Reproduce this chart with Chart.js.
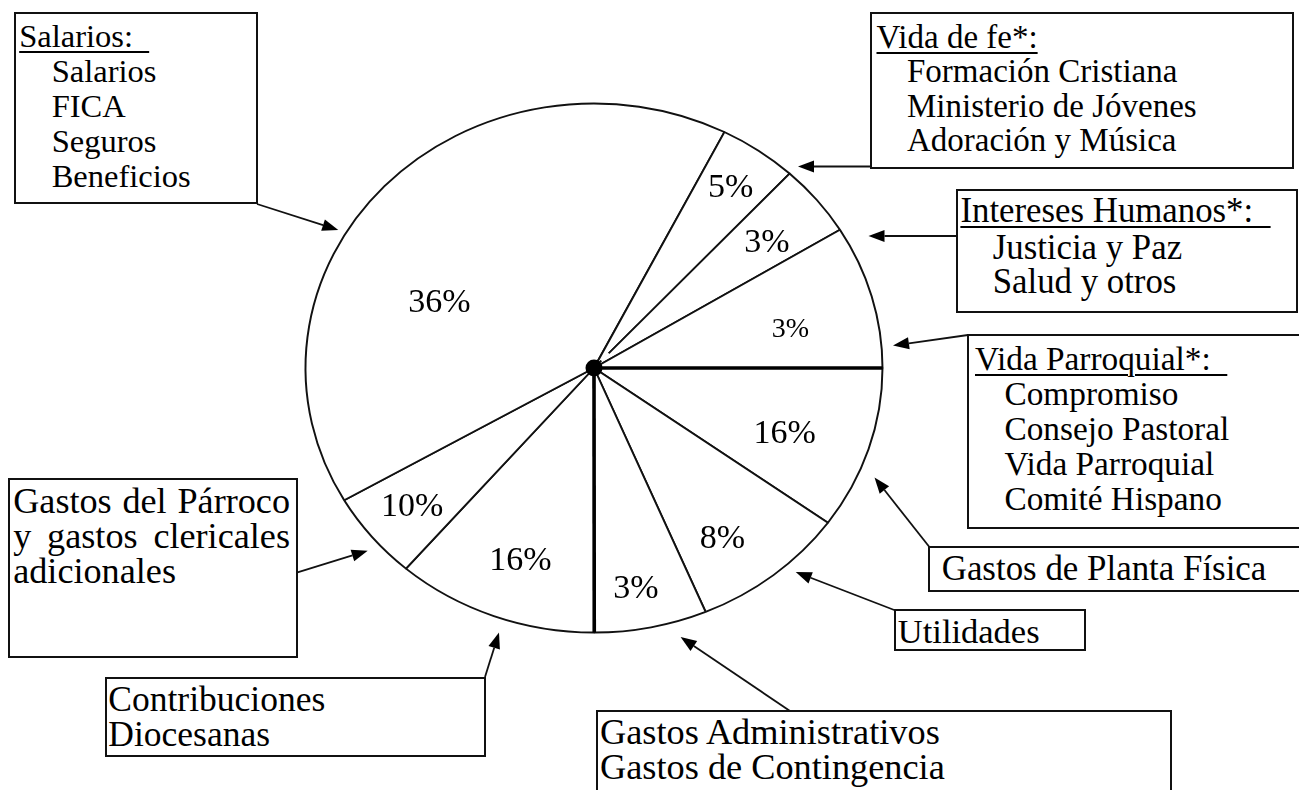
<!DOCTYPE html>
<html>
<head>
<meta charset="utf-8">
<script src="https://cdn.jsdelivr.net/npm/chart.js@4.4.1/dist/chart.umd.min.js"></script>
<style>
  body { margin: 0; background: #fff; }
  #page { position: relative; width: 1299px; height: 790px; overflow: hidden; font-family: "Liberation Serif", "Times New Roman", serif; color: #000; }
  #pie { position: absolute; left: 274px; top: 88px; }
  .box { position: absolute; box-sizing: border-box; border: 2px solid #111; background: #fff; white-space: pre; }
  .box .u { text-decoration: underline; text-decoration-thickness: 2px; text-underline-offset: 4px; }
  .box.para { white-space: normal; text-align: justify; }
  #arrows { position: absolute; left: 0; top: 0; pointer-events: none; }
</style>
</head>
<body>
<div id="page">
  <canvas id="pie" width="640" height="560"></canvas>
  <svg id="arrows" width="1299" height="790"></svg>
</div>
<script>
'use strict';

// slices, clockwise from 3 o'clock
let sliceNames = ['Gastos de Planta Física', 'Utilidades', 'Gastos Administrativos', 'Contribuciones Diocesanas',
  'Gastos del Párroco', 'Salarios', 'Vida de fe', 'Intereses Humanos', 'Vida Parroquial'];
let pctLabels = ['16%', '8%', '3%', '16%', '10%', '36%', '5%', '3%', '3%'];
// size of each slice as it is drawn (degrees) - the drawing doesn't follow the printed %
let sliceDegrees = [35.8, 31.4, 22.7, 40.7, 19.3, 146.8, 15.8, 15.8, 31.5];

let salariosItems = ['Salarios', 'FICA', 'Seguros', 'Beneficios'];
let feItems = ['Formación Cristiana', 'Ministerio de Jóvenes', 'Adoración y Música'];
let humanosItems = ['Justicia y Paz', 'Salud y otros'];
let parroquialItems = ['Compromiso', 'Consejo Pastoral', 'Vida Parroquial', 'Comité Hispano'];


// the pie is a bit wider than tall in the picture
let stretchX = 288.5 / 264.5;
// where each % sits: [part of the slice angle, part of the radius]
let labelSpots = [[0.577, 0.706], [0.626, 0.785], [0.568, 0.850], [0.475, 0.773], [0.494, 0.820],
  [0.372, 0.589], [0.5, 0.830], [0.576, 0.763], [0.615, 0.696]];

let piePlugin = {
  id: 'piePlugin',
  beforeDatasetsDraw(chart) {
    let arc = chart.getDatasetMeta(0).data[0];
    let ctx = chart.ctx;
    ctx.save();
    ctx.translate(arc.x, arc.y);
    ctx.scale(stretchX, 1);
    ctx.translate(-arc.x, -arc.y);
  },
  afterDatasetsDraw(chart) {
    let ctx = chart.ctx;
    let arcs = chart.getDatasetMeta(0).data;
    let cx = arcs[0].x;
    let cy = arcs[0].y;
    let R = arcs[0].outerRadius;

    // heavier spokes at 3 and 6 o'clock
    ctx.strokeStyle = '#000';
    ctx.lineWidth = 3.3;
    [0, 3].forEach(i => {
      let a = arcs[i].startAngle;
      ctx.beginPath();
      ctx.moveTo(cx, cy);
      ctx.lineTo(cx + R * Math.cos(a), cy + R * Math.sin(a));
      ctx.stroke();
    });

    // the 5% / 3% spoke stops short of the hub
    let g = arcs[7].startAngle;
    ctx.strokeStyle = '#fff';
    ctx.lineWidth = 2.6;
    ctx.beginPath();
    ctx.moveTo(cx + 10 * Math.cos(g), cy + 10 * Math.sin(g));
    ctx.lineTo(cx + 20 * Math.cos(g), cy + 20 * Math.sin(g));
    ctx.stroke();
    ctx.restore();

    ctx.fillStyle = '#000';
    ctx.beginPath();
    ctx.arc(cx, cy, 8.5, 0, Math.PI * 2);
    ctx.fill();

    ctx.textAlign = 'center';
    ctx.textBaseline = 'middle';
    arcs.forEach((a, i) => {
      let f = labelSpots[i][0];
      let r = labelSpots[i][1];
      let ang = a.startAngle + f * (a.endAngle - a.startAngle);
      ctx.font = (i === 8 ? 28 : 34) + 'px "Liberation Serif"';
      ctx.fillText(pctLabels[i], cx + r * R * Math.cos(ang) * stretchX, cy + r * R * Math.sin(ang));
    });
  }
};

new Chart(document.getElementById('pie'), {
  type: 'pie',
  data: {
    labels: sliceNames,
    datasets: [{
      data: sliceDegrees,
      backgroundColor: '#fff',
      borderColor: '#111',
      borderWidth: 1.8
    }]
  },
  options: {
    responsive: false,
    animation: false,
    events: [],
    rotation: 90,
    radius: 264.5,
    layout: { padding: 0 },
    plugins: { legend: { display: false }, tooltip: { enabled: false } }
  },
  plugins: [piePlugin]
});


// note boxes
let boxes = [
  { x: 14, y: 12, w: 244, h: 192, size: 32.5, lh: 35, pad: [5, 3.2], title: 'Salarios:  ', items: salariosItems, indent: 32.5 },
  { x: 870, y: 12, w: 424, h: 157, size: 33, lh: 34.5, pad: [5.9, 4.5], title: 'Vida de fe*:', items: feItems, indent: 30.5 },
  { x: 956, y: 189, w: 342, h: 124, size: 34.8, lh: 34, pad: [3, 2.4], title: 'Intereses Humanos*:  ', items: humanosItems, indent: 32.3, gap: 2.5 },
  { x: 967, y: 334, w: 360, h: 195, size: 33.3, lh: 35, pad: [5.3, 6], title: 'Vida Parroquial*:  ', items: parroquialItems, indent: 29.5 },
  { x: 928, y: 546, w: 400, h: 46, size: 34.9, lh: 35, pad: [2.7, 11.7], lines: ['Gastos de Planta Física'] },
  { x: 894, y: 609, w: 192, h: 42, size: 34.5, lh: 35, pad: [3.2, 1.8], lines: ['Utilidades'] },
  { x: 596, y: 710, w: 576, h: 120, size: 36.3, lh: 35, pad: [3.2, 2], lines: ['Gastos Administrativos', 'Gastos de Contingencia'] },
  { x: 105, y: 677, w: 381, h: 80, size: 35.5, lh: 35, pad: [2.5, 1.3], lines: ['Contribuciones', 'Diocesanas'] },
  { x: 8, y: 478, w: 290, h: 180, size: 36.2, lh: 35, pad: [3.6, 3.2], padRight: 6, para: 'Gastos del Párroco y gastos clericales adicionales' }
];

let page = document.getElementById('page');
boxes.forEach(b => {
  let div = document.createElement('div');
  div.className = 'box' + (b.para ? ' para' : '');
  div.style.left = b.x + 'px';
  div.style.top = b.y + 'px';
  div.style.width = b.w + 'px';
  div.style.height = b.h + 'px';
  div.style.fontSize = b.size + 'px';
  div.style.lineHeight = b.lh + 'px';
  div.style.padding = b.pad[0] + 'px ' + (b.padRight || 0) + 'px 0 ' + b.pad[1] + 'px';

  if (b.para) {
    div.textContent = b.para;
  } else if (b.title) {
    let t = document.createElement('div');
    let span = document.createElement('span');
    span.className = 'u';
    span.textContent = b.title;
    t.appendChild(span);
    if (b.gap) t.style.marginBottom = b.gap + 'px';
    div.appendChild(t);
    b.items.forEach(item => {
      let d = document.createElement('div');
      d.style.paddingLeft = b.indent + 'px';
      d.textContent = item;
      div.appendChild(d);
    });
  } else {
    b.lines.forEach(line => {
      let d = document.createElement('div');
      d.textContent = line;
      div.appendChild(d);
    });
  }
  page.insertBefore(div, document.getElementById('arrows'));
});


// arrows: tail x, tail y, tip x, tip y
let arrows = [
  [257, 204, 338.3, 230],
  [870.7, 166.5, 798, 166.5],
  [956.7, 236, 868.5, 236],
  [968, 335, 893, 345.5],
  [929, 546.5, 874.5, 477.5],
  [895.5, 610.5, 795.7, 572],
  [790, 711, 680.6, 637],
  [485, 677, 499, 632.5],
  [296.7, 572.7, 367.7, 550.7]
];

let svg = document.getElementById('arrows');
let svgNS = 'http://www.w3.org/2000/svg';
arrows.forEach(ar => {
  let x1 = ar[0], y1 = ar[1], x2 = ar[2], y2 = ar[3];
  let ang = Math.atan2(y2 - y1, x2 - x1);
  let len = 16;
  let half = 6;
  let bx = x2 - len * Math.cos(ang);
  let by = y2 - len * Math.sin(ang);

  let line = document.createElementNS(svgNS, 'line');
  line.setAttribute('x1', x1);
  line.setAttribute('y1', y1);
  line.setAttribute('x2', bx);
  line.setAttribute('y2', by);
  line.setAttribute('stroke', '#111');
  line.setAttribute('stroke-width', '1.8');
  svg.appendChild(line);

  let head = document.createElementNS(svgNS, 'polygon');
  let pts = [
    [x2, y2],
    [bx + half * Math.sin(ang), by - half * Math.cos(ang)],
    [bx - half * Math.sin(ang), by + half * Math.cos(ang)]
  ];
  head.setAttribute('points', pts.map(p => p[0].toFixed(1) + ',' + p[1].toFixed(1)).join(' '));
  head.setAttribute('fill', '#000');
  svg.appendChild(head);
});
</script>
</body>
</html>
